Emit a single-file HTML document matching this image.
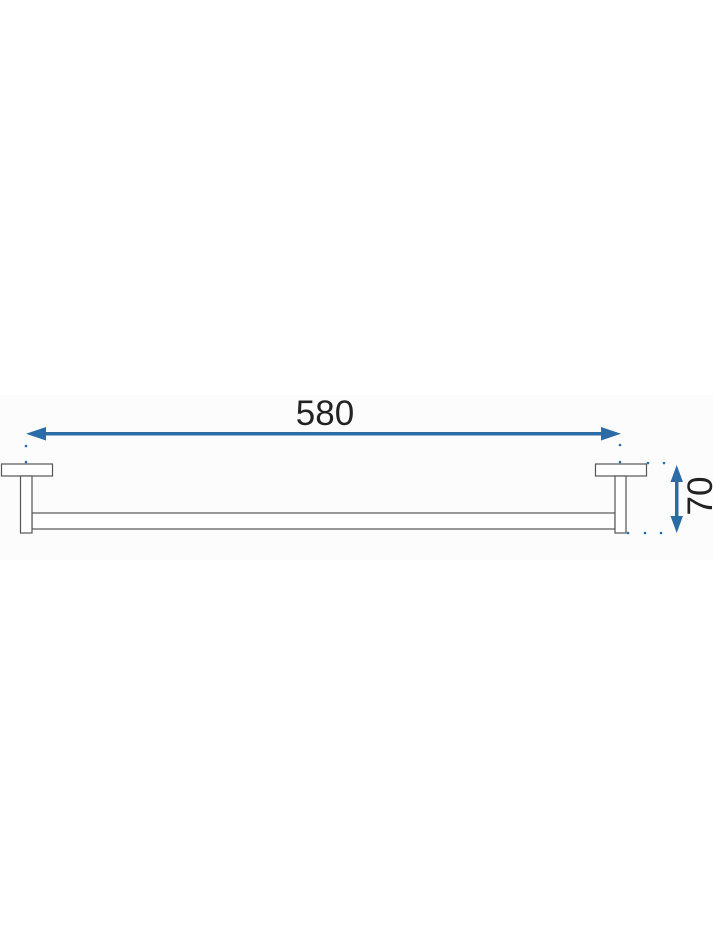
<!DOCTYPE html>
<html><head><meta charset="utf-8"><style>
html,body{margin:0;padding:0;background:#fff;}
svg{display:block}
</style></head><body>
<svg width="713" height="933" viewBox="0 0 713 933" xmlns="http://www.w3.org/2000/svg">
<rect x="0" y="395" width="713" height="165" fill="#fcfcfc"/>
<g fill="#fff" stroke="#555" stroke-width="1.2">
<rect x="32" y="513" width="583" height="16"/>
<rect x="1.5" y="464" width="51" height="12"/>
<rect x="20.5" y="476" width="11.5" height="57"/>
<rect x="595.5" y="464" width="51" height="12"/>
<rect x="615" y="476" width="11" height="57"/>
</g>
<g fill="#2b6ca6">
<rect x="40" y="432" width="566" height="3.5"/>
<polygon points="26,433.7 46,427 46,440.5"/>
<polygon points="621,433.7 601,427 601,440.5"/>
<rect x="675" y="478" width="3.5" height="42"/>
<polygon points="676.7,465 670.5,482 683,482"/>
<polygon points="676.7,533 670.5,516 683,516"/>
<circle cx="26" cy="446" r="1.3"/><circle cx="26" cy="462" r="1.3"/>
<circle cx="620" cy="445" r="1.3"/><circle cx="620" cy="462" r="1.3"/>
<circle cx="648" cy="463" r="1.3"/><circle cx="664" cy="463" r="1.3"/>
<circle cx="628" cy="533" r="1.3"/><circle cx="645" cy="533" r="1.3"/><circle cx="661" cy="533" r="1.3"/>
</g>
<text x="325" y="425" text-anchor="middle" font-family="'Liberation Sans',sans-serif" font-size="35" fill="#222">580</text>
<text transform="translate(712,496) rotate(-90)" text-anchor="middle" font-family="'Liberation Sans',sans-serif" font-size="35" fill="#222">70</text>
</svg>
</body></html>
